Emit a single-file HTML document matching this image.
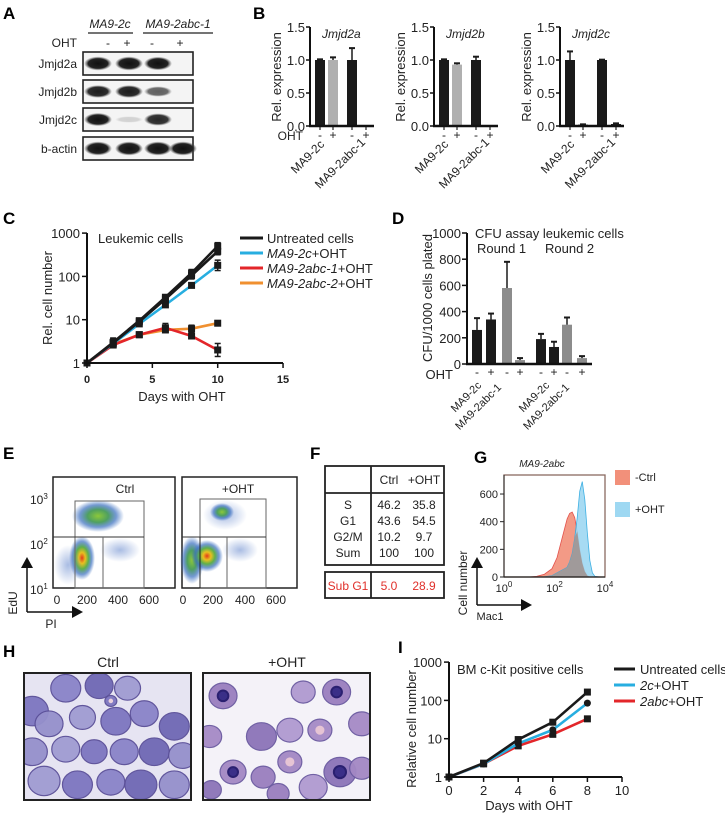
<!DOCTYPE html>
<html><head><meta charset="utf-8"><style>
html,body{margin:0;padding:0;background:#fff;}
svg{display:block;font-family:"Liberation Sans",sans-serif;}
.pl{font-weight:bold;font-size:17px;}
.t{font-size:12px;fill:#222;}
.s{font-size:11px;fill:#222;}
</style></head><body>
<svg id="fig" width="725" height="814" viewBox="0 0 725 814" xmlns="http://www.w3.org/2000/svg">
<defs>
<radialGradient id="blob" cx="50%" cy="50%" r="50%">
<stop offset="0" stop-color="#e23a1a"/><stop offset="0.25" stop-color="#e8c020"/><stop offset="0.5" stop-color="#5fb04a"/><stop offset="0.75" stop-color="#3a6fc0" stop-opacity="0.7"/><stop offset="1" stop-color="#3a6fc0" stop-opacity="0"/>
</radialGradient>
<radialGradient id="blob2" cx="50%" cy="50%" r="50%">
<stop offset="0" stop-color="#8cc83a"/><stop offset="0.4" stop-color="#4fa060"/><stop offset="0.7" stop-color="#3a6fc0" stop-opacity="0.7"/><stop offset="1" stop-color="#3a6fc0" stop-opacity="0"/>
</radialGradient>
<radialGradient id="blob3" cx="50%" cy="50%" r="50%">
<stop offset="0" stop-color="#6f8fd0" stop-opacity="0.6"/><stop offset="1" stop-color="#6f8fd0" stop-opacity="0"/>
</radialGradient>
<radialGradient id="band" cx="50%" cy="50%" r="50%">
<stop offset="0" stop-color="#111"/><stop offset="0.7" stop-color="#222"/><stop offset="1" stop-color="#555" stop-opacity="0"/>
</radialGradient>
</defs>

<g>
<text class="pl" x="3" y="19">A</text>
<text class="t" x="110" y="28" text-anchor="middle" font-style="italic">MA9-2c</text>
<line x1="88" y1="33" x2="133" y2="33" stroke="#222" stroke-width="1.2"/>
<text class="t" x="178" y="28" text-anchor="middle" font-style="italic">MA9-2abc-1</text>
<line x1="143" y1="33" x2="213" y2="33" stroke="#222" stroke-width="1.2"/>
<text class="t" x="77" y="47" text-anchor="end">OHT</text>
<text class="t" x="108" y="47" text-anchor="middle">-</text><text class="t" x="127" y="47" text-anchor="middle">+</text>
<text class="t" x="152" y="47" text-anchor="middle">-</text><text class="t" x="180" y="47" text-anchor="middle">+</text>
<g id="blots"></g>
</g>

<text class="pl" x="253" y="19">B</text>
<g id="panelB"></g>

<text class="pl" x="3" y="224">C</text>
<g id="panelC"></g>

<text class="pl" x="392" y="224">D</text>
<g id="panelD"></g>

<g>
<text class="pl" x="3" y="459">E</text>
<g>
<rect x="53" y="477" width="122" height="111" fill="#fff" stroke="#222" stroke-width="1.5"/>
<ellipse cx="98" cy="516" rx="26" ry="16" fill="url(#blob2)"/>
<ellipse cx="82" cy="558" rx="13" ry="22" fill="url(#blob)"/>
<ellipse cx="120" cy="550" rx="20" ry="12" fill="url(#blob3)"/>
<ellipse cx="68" cy="565" rx="14" ry="20" fill="url(#blob3)"/>
<rect x="75" y="501" width="69" height="87" fill="none" stroke="#666" stroke-width="1"/>
<line x1="53" y1="537" x2="144" y2="537" stroke="#333" stroke-width="1"/>
<line x1="103" y1="537" x2="103" y2="588" stroke="#666" stroke-width="1"/>
<text class="t" x="125" y="493" text-anchor="middle">Ctrl</text>
</g>
<g>
<rect x="182" y="477" width="115" height="111" fill="#fff" stroke="#222" stroke-width="1.5"/>
<ellipse cx="225" cy="515" rx="22" ry="15" fill="url(#blob3)"/>
<ellipse cx="222" cy="512" rx="12" ry="9" fill="url(#blob2)"/>
<ellipse cx="192" cy="560" rx="12" ry="24" fill="url(#blob2)"/>
<ellipse cx="207" cy="556" rx="16" ry="16" fill="url(#blob)"/>
<ellipse cx="240" cy="550" rx="18" ry="12" fill="url(#blob3)"/>
<rect x="200" y="499" width="66" height="89" fill="none" stroke="#666" stroke-width="1"/>
<line x1="182" y1="537" x2="266" y2="537" stroke="#333" stroke-width="1"/>
<line x1="227" y1="537" x2="227" y2="588" stroke="#666" stroke-width="1"/>
<line x1="200" y1="537" x2="200" y2="588" stroke="#222" stroke-width="1"/>
<text class="t" x="238" y="493" text-anchor="middle">+OHT</text>
</g>
<text class="t" x="30" y="504">10<tspan font-size="8" dy="-5">3</tspan></text>
<text class="t" x="30" y="549">10<tspan font-size="8" dy="-5">2</tspan></text>
<text class="t" x="30" y="594">10<tspan font-size="8" dy="-5">1</tspan></text>
<g class="t" text-anchor="middle"><text x="57" y="604">0</text><text x="87" y="604">200</text><text x="118" y="604">400</text><text x="149" y="604">600</text>
<text x="183" y="604">0</text><text x="213" y="604">200</text><text x="245" y="604">400</text><text x="276" y="604">600</text></g>
<path d="M27 612 V566" stroke="#111" stroke-width="1.5"/><path d="M21 568 L27 557 L33 568 Z" fill="#111"/>
<path d="M27 612 H74" stroke="#111" stroke-width="1.5"/><path d="M72 606 L83 612 L72 618 Z" fill="#111"/>
<text class="t" transform="translate(17,603) rotate(-90)" text-anchor="middle">EdU</text>
<text class="t" x="51" y="628" text-anchor="middle">PI</text>
</g>

<g>
<text class="pl" x="310" y="459">F</text>
<rect x="325" y="466" width="119" height="99" fill="none" stroke="#222" stroke-width="1.8"/>
<line x1="325" y1="493" x2="444" y2="493" stroke="#222" stroke-width="1.8"/>
<line x1="371" y1="466" x2="371" y2="565" stroke="#222" stroke-width="1.8"/>
<rect x="325" y="572" width="119" height="26" fill="none" stroke="#222" stroke-width="1.8"/>
<line x1="371" y1="572" x2="371" y2="598" stroke="#222" stroke-width="1.8"/>
<g class="t" text-anchor="middle">
<text x="389" y="484">Ctrl</text><text x="424" y="484">+OHT</text>
<text x="348" y="509">S</text><text x="389" y="509">46.2</text><text x="424" y="509">35.8</text>
<text x="348" y="525">G1</text><text x="389" y="525">43.6</text><text x="424" y="525">54.5</text>
<text x="348" y="541">G2/M</text><text x="389" y="541">10.2</text><text x="424" y="541">9.7</text>
<text x="348" y="557">Sum</text><text x="389" y="557">100</text><text x="424" y="557">100</text>
</g>
<g class="t" text-anchor="middle">
<text x="348" y="590" style="fill:#e0302a">Sub G1</text><text x="389" y="590" style="fill:#e0302a">5.0</text><text x="424" y="590" style="fill:#e0302a">28.9</text>
</g>
</g>

<text class="pl" x="474" y="463">G</text>
<g id="panelG"></g>

<g>
<text class="pl" x="3" y="657">H</text>
<text x="108" y="667" text-anchor="middle" font-size="14" fill="#222">Ctrl</text>
<text x="287" y="667" text-anchor="middle" font-size="14" fill="#222">+OHT</text>
<g id="hCtrl"></g>
<g id="hOht"></g>
</g>

<text class="pl" x="398" y="653">I</text>
<g id="panelI"></g>
</svg>

<script>
const NS = "http://www.w3.org/2000/svg";
function mk(parent, tag, attrs, txt){const e=document.createElementNS(NS,tag);for(const k in attrs)e.setAttribute(k,attrs[k]);if(txt!==undefined)e.textContent=txt;parent.appendChild(e);return e;}

const blotNames = ["Jmjd2a","Jmjd2b","Jmjd2c","b-actin"];
const blotIntensity = [[1,1,0.95,0],[0.85,0.85,0.55,0],[0.9,0.05,0.8,0],[1,1,1,1]];
const blotTops = [52,80,108,137];
{
const g=document.getElementById('blots');
const laneX=[98,129,158,183];
blotNames.forEach((n,i)=>{
  const y=blotTops[i];
  const r=mk(g,'rect',{x:83,y:y,width:110,height:23,fill:'#f4f4f4',stroke:'#222','stroke-width':1.6});
  
  
  mk(g,'text',{x:77,y:y+16,'text-anchor':'end','class':'t'},n);
  blotIntensity[i].forEach((v,j)=>{
    if(v<=0.02) return;
    mk(g,'ellipse',{cx:laneX[j],cy:y+11.5,rx:14,ry:3+4*v,fill:'url(#band)',opacity:Math.min(1,v+0.1)});
  });
});
}

const bTitles = ["Jmjd2a","Jmjd2b","Jmjd2c"];
const bValues = [[1.0,1.0,1.0,0.01],[1.0,0.93,1.0,0.01],[1.0,0.02,1.0,0.03]];
const bErrors = [[0.01,0.04,0.18,0],[0.01,0.02,0.05,0],[0.13,0.005,0.005,0.01]];
const bTicks = [0,0.5,1.0,1.5];
const bTickLabels = ["0.0","0.5","1.0","1.5"];
const bSigns = ["-","+","-","+"];
const bGroups = ["MA9-2c","MA9-2abc-1"];
{
const G=document.getElementById('panelB');
const axes=[310,434,560];
const y=v=>126-v*66;
const offs=[5,18,37,51];
axes.forEach((ax,ci)=>{
  const g=mk(G,'g',{});
  
  
  bValues[ci].forEach((v,i)=>{
    const x=ax+offs[i];
    const col=(ci<2 && i===1)?'#b0b0b0':'#1a1a1a';
    const b=mk(g,'rect',{x:x,y:y(v),width:10,height:126-y(v),fill:col});
    
    
    const e=bErrors[ci][i];
    if(e>0){mk(g,'line',{x1:x+5,x2:x+5,y1:y(v),y2:y(v+e),stroke:'#1a1a1a','stroke-width':1.5});
      mk(g,'line',{x1:x+2,x2:x+8,y1:y(v+e),y2:y(v+e),stroke:'#1a1a1a','stroke-width':2});}
    mk(g,'line',{x1:x+5,x2:x+5,y1:126,y2:130,stroke:'#222','stroke-width':1.2});
    mk(g,'text',{x:x+5,y:139,'text-anchor':'middle','class':'t'},bSigns[i]);
  });
  mk(g,'line',{x1:ax,x2:ax,y1:27,y2:127,stroke:'#111','stroke-width':2});
  mk(g,'line',{x1:ax-1,x2:ax+64,y1:126,y2:126,stroke:'#111','stroke-width':2.5});
  bTicks.forEach((t,i)=>{
    mk(g,'line',{x1:ax-4,x2:ax,y1:y(t),y2:y(t),stroke:'#111','stroke-width':1.5});
    mk(g,'text',{x:ax-5,y:y(t)+5,'text-anchor':'end','font-size':13,fill:'#222'},bTickLabels[i]);
  });
  mk(g,'text',{transform:`translate(${ax-29},77) rotate(-90)`,'text-anchor':'middle','font-size':13,fill:'#222'},'Rel. expression');
  mk(g,'text',{x:ax+12,y:38,'font-style':'italic','class':'t'},bTitles[ci]);
  mk(g,'text',{transform:`translate(${ax+15},145) rotate(-45)`,'text-anchor':'end','class':'t'},bGroups[0]);
  mk(g,'text',{transform:`translate(${ax+56},143) rotate(-45)`,'text-anchor':'end','class':'t'},bGroups[1]);
});
mk(G,'text',{x:303,y:140,'text-anchor':'end','class':'t'},'OHT');
}

const cDays = [0,2,4,6,8,10];
const cUntreated = [1,3,9.5,33,120,500];
const cUntreated2 = [1,2.9,9,30,105,380];
const c2cOht = [1,2.8,8,22,62,180];
const c2abc1Oht = [1,2.6,4.5,6.5,4.2,2];
const c2abc2Oht = [1,2.7,4.5,5.8,6.2,8.3];
const cErr = [[0,0.1,0.05,0.05,0.08,0.08],[0,0.1,0.05,0.05,0.08,0.08],[0,0.05,0.05,0.05,0.05,0.12],[0,0.05,0.06,0.1,0.06,0.15],[0,0.05,0.05,0.06,0.08,0.04]];
const cXTicks = [0,5,10,15];
const cYTicks = [1,10,100,1000];
const cLegend = [["Untreated cells",""],["MA9-2c","+OHT"],["MA9-2abc-1","+OHT"],["MA9-2abc-2","+OHT"]];
const cColors = ["#1a1a1a","#27aee0","#e3262a","#f09030"];
{
const G=document.getElementById('panelC');
const x=d=>87+d*13.07, y=v=>363-Math.log10(v)*43.3;
const series=[c2abc2Oht,c2abc1Oht,c2cOht,cUntreated2,cUntreated];
const cols=[cColors[3],cColors[2],cColors[1],cColors[0],cColors[0]];
const errs=[cErr[4],cErr[3],cErr[2],cErr[1],cErr[0]];
const nm=['ma9-2abc-2','ma9-2abc-1','ma9-2c','untreated-2','untreated'];
series.forEach((s,si)=>{
  const p=mk(G,'polyline',{points:s.map((v,i)=>x(cDays[i])+','+y(v)).join(' '),fill:'none',stroke:cols[si],'stroke-width':2.6});
  
  
  s.forEach((v,i)=>{
    const e=errs[si][i];
    if(e>0){mk(G,'line',{x1:x(cDays[i]),x2:x(cDays[i]),y1:y(v*Math.pow(10,e)),y2:y(v/Math.pow(10,e)),stroke:'#1a1a1a','stroke-width':1.5});
      mk(G,'line',{x1:x(cDays[i])-3,x2:x(cDays[i])+3,y1:y(v*Math.pow(10,e)),y2:y(v*Math.pow(10,e)),stroke:'#1a1a1a','stroke-width':1.5});
      mk(G,'line',{x1:x(cDays[i])-3,x2:x(cDays[i])+3,y1:y(v/Math.pow(10,e)),y2:y(v/Math.pow(10,e)),stroke:'#1a1a1a','stroke-width':1.5});}
    mk(G,'rect',{x:x(cDays[i])-3.5,y:y(v)-3.5,width:7,height:7,fill:'#1a1a1a'});
  });
});
mk(G,'line',{x1:87,x2:87,y1:233,y2:364,stroke:'#111','stroke-width':2});
mk(G,'line',{x1:86,x2:283,y1:363,y2:363,stroke:'#111','stroke-width':2});
cYTicks.forEach(t=>{mk(G,'line',{x1:82,x2:87,y1:y(t),y2:y(t),stroke:'#111','stroke-width':1.5});
  mk(G,'text',{x:80,y:y(t)+5,'text-anchor':'end','font-size':13,fill:'#222'},String(t));});
cXTicks.forEach(t=>{mk(G,'line',{x1:x(t),x2:x(t),y1:363,y2:368,stroke:'#111','stroke-width':1.5});
  mk(G,'text',{x:x(t),y:383,'text-anchor':'middle','font-size':11,'font-weight':'bold',fill:'#222'},String(t));});
mk(G,'text',{x:182,y:401,'text-anchor':'middle','font-size':13,fill:'#222'},'Days with OHT');
mk(G,'text',{transform:'translate(52,298) rotate(-90)','text-anchor':'middle','font-size':13,fill:'#222'},'Rel. cell number');
mk(G,'text',{x:98,y:243,'font-size':13,fill:'#222'},'Leukemic cells');
cLegend.forEach((l,i)=>{const yy=238+i*15;
  const ln=mk(G,'line',{x1:240,x2:263,y1:yy,y2:yy,stroke:cColors[i],'stroke-width':3});
  
  
  const t=mk(G,'text',{x:267,y:yy+5,'font-size':13,fill:'#222'});
  mk(t,'tspan',{'font-style':i?'italic':'normal'},l[0]); mk(t,'tspan',{},l[1]);
});
}

const dValues = [260,340,580,30,190,130,300,45];
const dErrors = [90,45,200,15,40,40,55,15];
const dSigns = ["-","+","-","+","-","+","-","+"];
const dYTicks = [0,200,400,600,800,1000];
const dGroups = ["MA9-2c","MA9-2abc-1","MA9-2c","MA9-2abc-1"];
{
const G=document.getElementById('panelD');
const y=v=>364-v*0.131;
const xs=[472,486,502,515,536,549,562,577];
dValues.forEach((v,i)=>{
  const col=(i%4>=2)?'#8c8c8c':'#1a1a1a';
  const b=mk(G,'rect',{x:xs[i],y:y(v),width:10,height:364-y(v),fill:col});
  
  
  const e=dErrors[i];
  mk(G,'line',{x1:xs[i]+5,x2:xs[i]+5,y1:y(v),y2:y(v+e),stroke:'#1a1a1a','stroke-width':1.5});
  mk(G,'line',{x1:xs[i]+2,x2:xs[i]+8,y1:y(v+e),y2:y(v+e),stroke:'#1a1a1a','stroke-width':2});
  mk(G,'text',{x:xs[i]+5,y:376,'text-anchor':'middle','class':'t'},dSigns[i]);
});
mk(G,'line',{x1:467,x2:467,y1:233,y2:365,stroke:'#111','stroke-width':2});
mk(G,'line',{x1:466,x2:592,y1:364,y2:364,stroke:'#111','stroke-width':2.5});
dYTicks.forEach(t=>{mk(G,'line',{x1:462,x2:467,y1:y(t),y2:y(t),stroke:'#111','stroke-width':1.5});
  mk(G,'text',{x:461,y:y(t)+5,'text-anchor':'end','font-size':13,fill:'#222'},String(t));});
mk(G,'text',{transform:'translate(432,298) rotate(-90)','text-anchor':'middle','font-size':13,fill:'#222'},'CFU/1000 cells plated');
mk(G,'text',{x:475,y:238,'font-size':13,fill:'#222'},'CFU assay leukemic cells');
mk(G,'text',{x:477,y:253,'font-size':13,fill:'#222'},'Round 1');
mk(G,'text',{x:545,y:253,'font-size':13,fill:'#222'},'Round 2');
mk(G,'text',{x:453,y:379,'text-anchor':'end','font-size':13,fill:'#222'},'OHT');
const ends=[[482,386],[502,388],[550,386],[570,388]];
dGroups.forEach((g,i)=>mk(G,'text',{transform:`translate(${ends[i][0]},${ends[i][1]}) rotate(-45)`,'text-anchor':'end','font-size':11,fill:'#222'},g));
}

const gLogX = [1.0,1.3,1.6,1.9,2.1,2.3,2.5,2.6,2.7,2.8,2.9,3.0,3.1,3.2,3.3,3.4,3.5,3.6,3.8];
const gCtrl = [0,5,20,60,140,280,420,460,470,430,330,200,100,40,10,2,0,0,0];
const gOht = [0,0,2,10,30,50,70,110,170,280,430,620,690,560,320,120,30,5,0];
const gYTicks = [0,200,400,600];
{
const G=document.getElementById('panelG');
const x=l=>504+l*25.25, y=v=>577-v*0.1383;
const poly=(arr)=>x(gLogX[0])+','+577+' '+arr.map((v,i)=>x(gLogX[i])+','+y(v)).join(' ')+' '+x(gLogX[gLogX.length-1])+',577';
const r=mk(G,'polygon',{points:poly(gCtrl),fill:'#f2907a',stroke:'#e0403a','stroke-width':0.8,opacity:0.9});


const b=mk(G,'polygon',{points:poly(gOht),fill:'#9ed8f2',stroke:'#2aa8e0','stroke-width':0.8,opacity:0.9});


mk(G,'polygon',{points:poly(gCtrl.map((v,i)=>Math.min(v,gOht[i]))),fill:'#a09a9a'});
mk(G,'rect',{x:504,y:475,width:101,height:102,fill:'none',stroke:'#8a6a60','stroke-width':1.3});
mk(G,'line',{x1:504,x2:605,y1:577,y2:577,stroke:'#222','stroke-width':1.3});
mk(G,'line',{x1:504,x2:504,y1:475,y2:577,stroke:'#222','stroke-width':1});
gYTicks.forEach(t=>{mk(G,'line',{x1:500,x2:504,y1:y(t),y2:y(t),stroke:'#222'});
  mk(G,'text',{x:498,y:y(t)+4,'text-anchor':'end','font-size':11,fill:'#222'},String(t));});
[0,2,4].forEach(p=>{const t=mk(G,'text',{x:x(p),y:592,'text-anchor':'middle','font-size':11,fill:'#222'},'10');mk(t,'tspan',{'font-size':8,dy:-5},String(p));});
mk(G,'text',{x:542,y:467,'text-anchor':'middle','font-size':10,'font-style':'italic',fill:'#222'},'MA9-2abc');
mk(G,'rect',{x:615,y:470,width:15,height:15,fill:'#f2907a'});
mk(G,'text',{x:635,y:481,'font-size':11,fill:'#222'},'-Ctrl');
mk(G,'rect',{x:615,y:502,width:15,height:15,fill:'#9ed8f2'});
mk(G,'text',{x:635,y:513,'font-size':11,fill:'#222'},'+OHT');
mk(G,'path',{d:'M477 605 V566',stroke:'#111','stroke-width':1.5});
mk(G,'path',{d:'M471 568 L477 557 L483 568 Z',fill:'#111'});
mk(G,'path',{d:'M477 605 H523',stroke:'#111','stroke-width':1.5});
mk(G,'path',{d:'M521 599 L532 605 L521 611 Z',fill:'#111'});
mk(G,'text',{transform:'translate(467,583) rotate(-90)','text-anchor':'middle','font-size':12,fill:'#222'},'Cell number');
mk(G,'text',{x:490,y:620,'text-anchor':'middle','font-size':11,fill:'#222'},'Mac1');
}

{
function micro(id,x0,w,bg,cells,cols,stroke){
  const g=document.getElementById(id);
  const cid='clip'+id;
  const cp=mk(g,'clipPath',{id:cid}); mk(cp,'rect',{x:x0,y:673,width:w,height:127});
  const gg=mk(g,'g',{'clip-path':`url(#${cid})`});
  mk(gg,'rect',{x:x0,y:673,width:w,height:127,fill:bg});
  cells.forEach((c,i)=>{
    mk(gg,'ellipse',{cx:x0+c[0]*w,cy:673+c[1]*127,rx:c[2],ry:c[2]*0.92,fill:cols[i%cols.length],stroke:stroke,'stroke-width':1.2,opacity:0.95});
    if(c[3]) mk(gg,'ellipse',{cx:x0+c[0]*w,cy:673+c[1]*127,rx:c[2]*0.38,ry:c[2]*0.38,fill:c[3],stroke:c[3]==='#3a2f88'?'#2a2070':'none','stroke-width':2});
  });
  mk(g,'rect',{x:x0,y:673,width:w,height:127,fill:'none',stroke:'#222','stroke-width':2});
}
const cc=['#7d76c0','#8a84c8','#6f68b4','#9590cc','#a09cd2'];
const ctrlCells=[[0.05,0.3,16],[0.25,0.12,15],[0.45,0.1,14],[0.15,0.4,14],[0.35,0.35,13],[0.55,0.38,15],[0.72,0.32,14],[0.9,0.42,15],
[0.05,0.62,15],[0.25,0.6,14],[0.42,0.62,13],[0.6,0.62,14],[0.78,0.62,15],[0.95,0.65,14],
[0.12,0.85,16],[0.32,0.88,15],[0.52,0.86,14],[0.7,0.88,16],[0.9,0.88,15],[0.62,0.12,13],[0.52,0.22,6,'#ead0dc']];
micro('hCtrl',24,167,'#e6e4f2',ctrlCells,cc,'#5a4f98');
const oc=['#9a7fbf','#a58ac6','#8c74b8','#b09ad0','#a388c4'];
const ohtCells=[[0.12,0.18,14,'#3a2f88'],[0.04,0.5,12],[0.35,0.5,15],[0.52,0.45,13],[0.52,0.7,12,'#e6c4d4'],[0.8,0.15,14,'#3a2f88'],[0.95,0.4,13],[0.82,0.78,16,'#3a2f88'],[0.66,0.9,14],[0.18,0.78,13,'#3a2f88'],[0.36,0.82,12],[0.7,0.45,12,'#e6c4d4'],[0.05,0.92,10],[0.6,0.15,12],[0.95,0.75,12],[0.45,0.95,11]];
micro('hOht',203,167,'#f4f2f8',ohtCells,oc,'#6a5aa0');
}

const iDays = [0,2,4,6,8];
const iUntreated = [1,2.3,9.5,27,165];
const i2cOht = [1,2.2,7.5,17,85];
const i2abcOht = [1,2.2,6.5,13,33];
const iXTicks = [0,2,4,6,8,10];
const iYTicks = [1,10,100,1000];
const iLegend = [["Untreated cells",""],["2c","+OHT"],["2abc","+OHT"]];
const iColors = ["#1a1a1a","#27aee0","#e3262a"];
{
const G=document.getElementById('panelI');
const x=d=>449+d*17.3, y=v=>777-Math.log10(v)*38.3;
[i2abcOht,i2cOht,iUntreated].forEach((s,k)=>{
  const col=iColors[2-k];
  const p=mk(G,'polyline',{points:s.map((v,i)=>x(iDays[i])+','+y(v)).join(' '),fill:'none',stroke:col,'stroke-width':2.6});
  
  
  s.forEach((v,i)=>{
    mk(G,'line',{x1:x(iDays[i]),x2:x(iDays[i]),y1:y(v*1.2),y2:y(v/1.2),stroke:'#1a1a1a','stroke-width':1.5});
    if(k===1) mk(G,'circle',{cx:x(iDays[i]),cy:y(v),r:3.5,fill:'#1a1a1a'});
    else mk(G,'rect',{x:x(iDays[i])-3.5,y:y(v)-3.5,width:7,height:7,fill:'#1a1a1a'});
  });
});
mk(G,'line',{x1:449,x2:449,y1:662,y2:778,stroke:'#111','stroke-width':2});
mk(G,'line',{x1:448,x2:622,y1:777,y2:777,stroke:'#111','stroke-width':2});
iYTicks.forEach(t=>{mk(G,'line',{x1:444,x2:449,y1:y(t),y2:y(t),stroke:'#111','stroke-width':1.5});
  mk(G,'text',{x:442,y:y(t)+5,'text-anchor':'end','font-size':13,fill:'#222'},String(t));});
iXTicks.forEach(t=>{mk(G,'line',{x1:x(t),x2:x(t),y1:777,y2:782,stroke:'#111','stroke-width':1.5});
  mk(G,'text',{x:x(t),y:795,'text-anchor':'middle','font-size':13,fill:'#222'},String(t));});
mk(G,'text',{x:529,y:810,'text-anchor':'middle','font-size':13,fill:'#222'},'Days with OHT');
mk(G,'text',{transform:'translate(416,729) rotate(-90)','text-anchor':'middle','font-size':13,fill:'#222'},'Relative cell number');
mk(G,'text',{x:457,y:674,'font-size':13,fill:'#222'},'BM c-Kit positive cells');
iLegend.forEach((l,i)=>{const yy=669+i*16;
  const ln=mk(G,'line',{x1:614,x2:635,y1:yy,y2:yy,stroke:iColors[i],'stroke-width':3});
  
  
  const t=mk(G,'text',{x:640,y:yy+5,'font-size':13,fill:'#222'});
  mk(t,'tspan',{'font-style':i?'italic':'normal'},l[0]); mk(t,'tspan',{},l[1]);
});
}
</script>
</body></html>
